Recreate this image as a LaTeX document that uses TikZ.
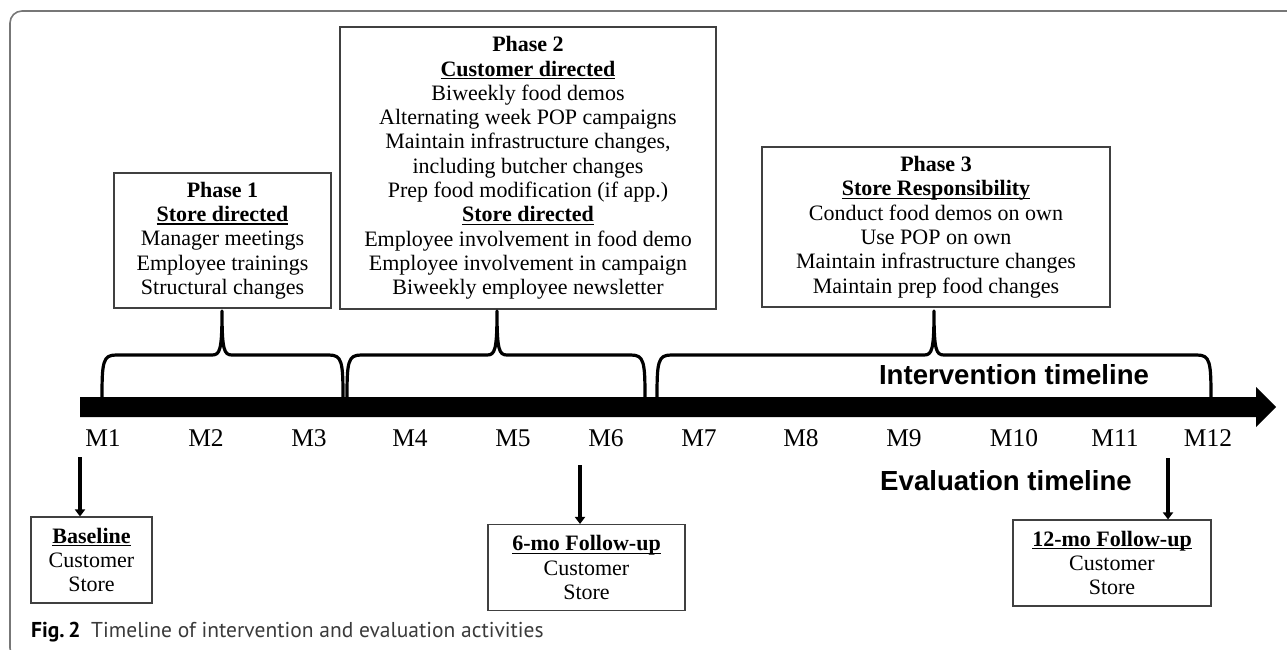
\documentclass[tikz,border=0pt]{standalone}
\usepackage{fontspec}
\setmainfont{Liberation Serif}
\newfontfamily\hdfont{Liberation Sans}
\newfontfamily\capfont{PT Sans}
\newcommand\myul[1]{\setbox0\hbox{#1}\rlap{\rule[-3.2pt]{\wd0}{1.3pt}}\box0}
\usetikzlibrary{arrows.meta}
\definecolor{framegray}{HTML}{777777}
\definecolor{capgray}{HTML}{3A3A3A}
\tikzset{
  phbox/.style={draw=black!75, line width=1.1pt, align=center, inner sep=0pt,
    font=\fontsize{22}{24.3}\selectfont},
  brc/.style={line width=3.2pt, line cap=round, line join=round},
  mlab/.style={font=\fontsize{25.5}{30}\selectfont, inner sep=0pt},
  tline/.style={font=\hdfont\bfseries\fontsize{27.6}{32}\selectfont, inner sep=0pt},
  evarrow/.style={line width=3.5pt, -{Triangle[width=10pt,length=7pt]}},
}
\begin{document}
\begin{tikzpicture}[x=1pt,y=-1pt]
\useasboundingbox (0,0) rectangle (1287,649);
% frame
\draw[framegray, line width=1.6pt, rounded corners=12pt] (1300,11) -- (10,11) -- (10,660) -- (40,660);

% phase boxes
\node[phbox, minimum width=217pt, minimum height=135pt] (p1) at (222.5,240.5)
  {\textbf{Phase 1}\\ \myul{\textbf{Store directed}}\\ Manager meetings\\ Employee trainings\\ Structural changes};
\node[phbox, minimum width=376pt, minimum height=282pt] (p2) at (528,168)
  {\textbf{Phase 2}\\ \myul{\textbf{Customer directed}}\\ Biweekly food demos\\ Alternating week POP campaigns\\ Maintain infrastructure changes,\\ including butcher changes\\ Prep food modification (if app.)\\ \myul{\textbf{Store directed}}\\ Employee involvement in food demo\\ Employee involvement in campaign\\ Biweekly employee newsletter};
\node[phbox, minimum width=348pt, minimum height=160pt] (p3) at (936,227)
  {\textbf{Phase 3}\\ \myul{\textbf{Store Responsibility}}\\ Conduct food demos on own\\ Use POP on own\\ Maintain infrastructure changes\\ Maintain prep food changes};

% braces
\draw[brc] (102,397) .. controls (102,362) and (103,355) .. (116,355) -- (212,355)
  .. controls (220,355) and (222,350) .. (222,311)
  .. controls (222,350) and (224,355) .. (232,355) -- (329,355)
  .. controls (342,355) and (343,362) .. (343,397);
\draw[brc] (347,397) .. controls (347,362) and (348,355) .. (361,355) -- (487,355)
  .. controls (495,355) and (497,350) .. (497,311)
  .. controls (497,350) and (499,355) .. (507,355) -- (631,355)
  .. controls (644,355) and (645,362) .. (645,397);
\draw[brc] (657,397) .. controls (657,362) and (658,355) .. (671,355) -- (924,355)
  .. controls (932,355) and (934,350) .. (934,311)
  .. controls (934,350) and (936,355) .. (944,355) -- (1197,355)
  .. controls (1210,355) and (1211,362) .. (1211,397);

% main timeline arrow
\fill (80,397) -- (1256,397) -- (1256,387) -- (1276,407) -- (1256,427) -- (1256,417) -- (80,417) -- cycle;

\node[tline] (it) at (1014,375) {Intervention timeline};
\node[tline] (et) at (1006,481) {Evaluation timeline};

% month labels
\node[mlab] (m1) at (103,438) {M1};
\node[mlab] (m2) at (206,438) {M2};
\node[mlab] (m3) at (309,438) {M3};
\node[mlab] (m4) at (410,438) {M4};
\node[mlab] (m5) at (513,438) {M5};
\node[mlab] (m6) at (606,438) {M6};
\node[mlab] (m7) at (699,438) {M7};
\node[mlab] (m8) at (801,438) {M8};
\node[mlab] (m9) at (904,438) {M9};
\node[mlab] (m10) at (1014,438) {M10};
\node[mlab] (m11) at (1115,438) {M11};
\node[mlab] (m12) at (1208,438) {M12};

% evaluation boxes
\node[phbox, minimum width=121pt, minimum height=86pt] (b1) at (91.5,560)
  {\myul{\textbf{Baseline}}\\ Customer\\ Store};
\node[phbox, minimum width=197pt, minimum height=86pt] (b2) at (586.5,567.5)
  {\myul{\textbf{6-mo Follow-up}}\\ Customer\\ Store};
\node[phbox, minimum width=198pt, minimum height=86pt] (b3) at (1112,563)
  {\myul{\textbf{12-mo Follow-up}}\\ Customer\\ Store};

\coordinate (a1) at (80,457);
\coordinate (a2) at (580,465);
\coordinate (a3) at (1168,458);
\draw[evarrow] (a1) -- (a1 |- b1.north);
\draw[evarrow] (a2) -- (a2 |- b2.north);
\draw[evarrow] (a3) -- (a3 |- b3.north);

% caption
\node[anchor=west, inner sep=0pt, font=\capfont\fontsize{21.5}{25}\selectfont] (cap) at (31,632)
  {\textbf{Fig.\,2}\enspace\textcolor{capgray}{Timeline of intervention and evaluation activities}};
\end{tikzpicture}
\end{document}
